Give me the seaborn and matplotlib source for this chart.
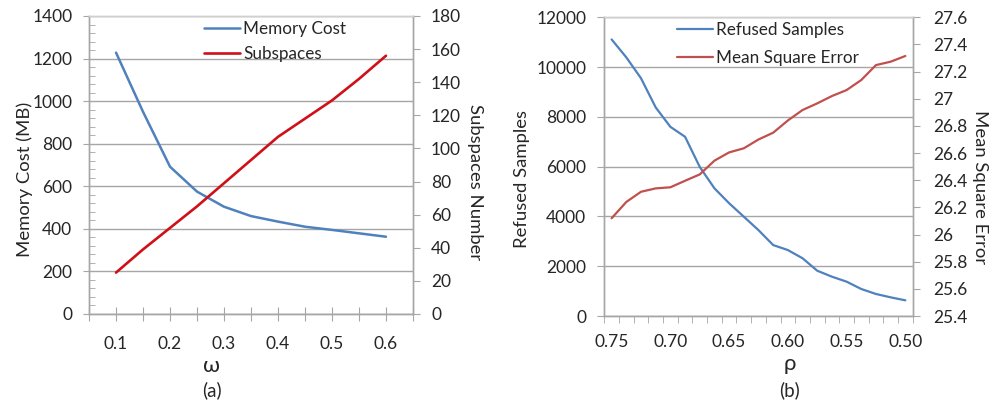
import matplotlib
matplotlib.use("Agg")
import matplotlib.pyplot as plt
import seaborn as sns
import numpy as np
import pandas as pd
from matplotlib.lines import Line2D
from matplotlib.ticker import FuncFormatter

# ---------------- data ----------------
omega = [0.10, 0.15, 0.20, 0.25, 0.30, 0.35, 0.40, 0.45, 0.50, 0.55, 0.60]
memory_cost = [1228, 950, 692, 575, 504, 460, 434, 410, 395, 379, 363]
subspaces = [25, 39, 52, 65, 79, 93, 107, 118, 129, 142, 156]

rho = [0.75, 0.7375, 0.725, 0.7125, 0.70, 0.6875, 0.675, 0.6625, 0.65, 0.6375,
       0.625, 0.6125, 0.60, 0.5875, 0.575, 0.5625, 0.55, 0.5375, 0.525, 0.5125, 0.50]
refused = [11110, 10390, 9550, 8380, 7600, 7200, 5990, 5130, 4530, 3990,
           3450, 2850, 2650, 2320, 1820, 1580, 1380, 1085, 885, 750, 630]
mse = [26.12, 26.24, 26.315, 26.34, 26.348, 26.396, 26.443, 26.544, 26.605, 26.635,
       26.70, 26.75, 26.84, 26.917, 26.966, 27.02, 27.064, 27.138, 27.248, 27.273, 27.315]

a_xticks = [0.1, 0.2, 0.3, 0.4, 0.5, 0.6]
b_xticks = [0.75, 0.70, 0.65, 0.60, 0.55, 0.50]

# ---------------- style ----------------
sns.set_style("ticks")
plt.rcParams['font.family'] = ['Lato', 'DejaVu Sans']
plt.rcParams['axes.unicode_minus'] = False

BLUE = "#4F81BD"
RED_A = "#D01018"
RED_B = "#C0504D"
GRID = "#A6A6A6"
SPINE = "#A6A6A6"
TOPC = "#D0D0D0"
TXT = "#262626"
FS_TICK = 12.5
FS_LAB = 13.3

fig = plt.figure(figsize=(9.98, 4.04), dpi=100)

def style_axes(ax):
    for s in ax.spines.values():
        s.set_color(SPINE)
        s.set_linewidth(1.0)
    ax.spines['top'].set_color(TOPC)
    ax.tick_params(which='both', colors=SPINE, labelcolor=TXT, labelsize=FS_TICK)

# ---------------- panel (a) ----------------
ax1 = fig.add_axes([0.0892, 0.2228, 0.3246, 0.7376])
ax1b = ax1.twinx()
dfa = pd.DataFrame({"omega": omega, "memory": memory_cost, "subspaces": subspaces})
sns.lineplot(data=dfa, x="omega", y="memory", ax=ax1, color=BLUE, lw=1.8)
sns.lineplot(data=dfa, x="omega", y="subspaces", ax=ax1b, color=RED_A, lw=1.9)
ax1.set_xlim(0.05, 0.65)
ax1.set_ylim(0, 1400)
ax1b.set_ylim(0, 180)
ax1.set_yticks(np.arange(0, 1401, 200))
ax1.set_yticks(np.arange(0, 1401, 40), minor=True)
ax1b.set_yticks(np.arange(0, 181, 20))
xt = np.arange(0.05, 0.651, 0.05)
ax1.set_xticks(xt)
ax1.set_xticklabels([f"{v:.1f}" if any(abs(v - t) < 1e-6 for t in a_xticks) else "" for v in xt])
ax1.yaxis.grid(True, color=GRID, lw=1.0)
ax1.set_axisbelow(True)
for a in (ax1, ax1b):
    style_axes(a)
    a.set_xlabel("")
    a.set_ylabel("")
ax1.tick_params(axis='x', direction='inout', length=10, pad=11)
ax1.tick_params(axis='y', which='major', direction='out', length=4, pad=8)
ax1.tick_params(axis='y', which='minor', direction='in', length=4)
ax1b.tick_params(axis='y', direction='out', length=5, pad=8)

ax1.legend(handles=[Line2D([], [], color=BLUE, lw=1.8), Line2D([], [], color=RED_A, lw=1.9)],
           labels=["Memory Cost", "Subspaces"], loc="upper left",
           bbox_to_anchor=(0.355, 0.982), frameon=False, fontsize=12.3,
           borderpad=0, borderaxespad=0,
           handlelength=2.1, handletextpad=0.2, labelspacing=0.5, labelcolor=TXT)

fig.text(25/998, 1 - 179/404, "Memory Cost (MB)", rotation=90, ha="center", va="center",
         fontsize=FS_LAB, color=TXT)
fig.text(475/998, 1 - 182/404, "Subspaces Number", rotation=270, ha="center", va="center",
         fontsize=FS_LAB, color=TXT)
fig.text(212/998, 1 - 366/404, "ω", ha="center", va="center", fontsize=16, color=TXT)
fig.text(212/998, 1 - 390/404, "(a)", ha="center", va="center", fontsize=13.5, color=TXT)

# ---------------- panel (b) ----------------
ax2 = fig.add_axes([0.6055, 0.2178, 0.309, 0.7394])
ax2b = ax2.twinx()
dfb = pd.DataFrame({"rho": rho, "refused": refused, "mse": mse})
sns.lineplot(data=dfb, x="rho", y="refused", ax=ax2, color=BLUE, lw=1.6)
sns.lineplot(data=dfb, x="rho", y="mse", ax=ax2b, color=RED_B, lw=1.6)
step = rho[0] - rho[1]
ax2.set_xlim(rho[0] + step / 2, rho[-1] - step / 2)
ax2.set_ylim(0, 12000)
ax2b.set_ylim(25.4, 27.6)
ax2.set_yticks(np.arange(0, 12001, 2000))
ax2b.set_yticks(np.linspace(25.4, 27.6, 12))
ax2b.yaxis.set_major_formatter(FuncFormatter(lambda v, p: f"{v:.1f}".rstrip('0').rstrip('.')))
ax2.set_xticks(b_xticks)
ax2.set_xticklabels([f"{v:.2f}" for v in b_xticks])
bounds = [r + step / 2 for r in rho] + [rho[-1] - step / 2]
ax2.set_xticks(bounds, minor=True)
ax2.yaxis.grid(True, color=GRID, lw=1.0)
ax2.set_axisbelow(True)
for a in (ax2, ax2b):
    style_axes(a)
    a.set_xlabel("")
    a.set_ylabel("")
ax2.tick_params(axis='x', which='major', length=0, pad=13)
ax2.tick_params(axis='x', which='minor', direction='out', length=5)
ax2.tick_params(axis='y', direction='out', length=5, pad=8)
ax2b.tick_params(axis='y', direction='out', length=5, pad=10)

ax2.legend(handles=[Line2D([], [], color=BLUE, lw=1.6), Line2D([], [], color=RED_B, lw=1.6)],
           labels=["Refused Samples", "Mean Square Error"], loc="upper left",
           bbox_to_anchor=(0.235, 0.985), frameon=False, fontsize=12.3,
           borderpad=0, borderaxespad=0,
           handlelength=2.1, handletextpad=0.2, labelspacing=0.7, labelcolor=TXT)

fig.text(522/998, 1 - 179/404, "Refused Samples", rotation=90, ha="center", va="center",
         fontsize=FS_LAB, color=TXT)
fig.text(980/998, 1 - 187/404, "Mean Square Error", rotation=270, ha="center", va="center",
         fontsize=FS_LAB, color=TXT)
fig.text(790/998, 1 - 364/404, "ρ", ha="center", va="center", fontsize=16, color=TXT)
fig.text(790/998, 1 - 390/404, "(b)", ha="center", va="center", fontsize=13.5, color=TXT)

fig.savefig("out.png", dpi=100)
